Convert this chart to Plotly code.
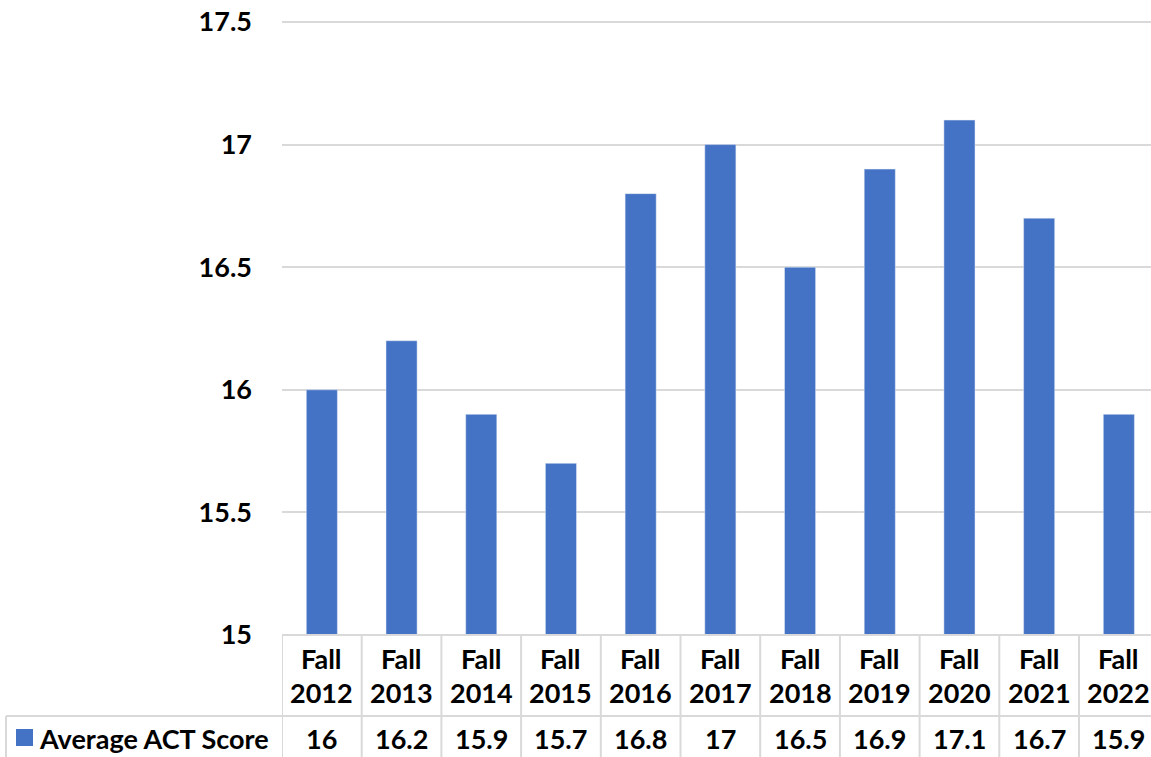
import plotly.graph_objects as go

categories = ["Fall 2012", "Fall 2013", "Fall 2014", "Fall 2015", "Fall 2016", "Fall 2017",
              "Fall 2018", "Fall 2019", "Fall 2020", "Fall 2021", "Fall 2022"]
values = [16, 16.2, 15.9, 15.7, 16.8, 17, 16.5, 16.9, 17.1, 16.7, 15.9]
series_name = "Average ACT Score"
y_ticks = [15, 15.5, 16, 16.5, 17, 17.5]
y_ticktext = ["15", "15.5", "16", "16.5", "17", "17.5"]

W, H = 1151, 757
FONT = "Lato"
FS = 27
BLUE = "#4472C4"
GRID = "#d9d9d9"
TXT = "#000000"

def py(pix):
    return 1 - pix / H

x_idx = list(range(len(categories)))

fig = go.Figure()
fig.add_trace(go.Bar(x=x_idx, y=values, marker_color=BLUE, width=0.39,
                     name=series_name, showlegend=False, hoverinfo="y"))

col_w = 79.7
left_px = 282
n_vis = (W - left_px) / col_w

y_lo, y_hi = 15, 17.5
pad = 0.01
px_per_unit = (635 - 22) / (y_hi - y_lo)

bold = dict(family=FONT, size=FS, color=TXT, weight="bold")

fig.update_layout(
    width=W, height=H,
    margin=dict(l=0, r=0, t=0, b=0),
    paper_bgcolor="white", plot_bgcolor="white",
    font=dict(family=FONT, size=FS, color=TXT),
    xaxis=dict(domain=[left_px / W, 1], range=[-0.5, -0.5 + n_vis],
               showticklabels=False, showgrid=False, zeroline=False,
               showline=False, ticks="", automargin=False),
    yaxis=dict(domain=[py(635), py(22 - pad * px_per_unit)], range=[y_lo, y_hi + pad],
               tickvals=y_ticks, ticktext=y_ticktext,
               tickfont=bold,
               showgrid=True, gridcolor=GRID, gridwidth=2, zeroline=False,
               showline=False, ticks="", ticklabelstandoff=29, automargin=False),
)

shapes = []
shapes.append(dict(type="line", xref="paper", yref="paper",
                   x0=left_px / W, x1=1, y0=py(635), y1=py(635),
                   line=dict(color=GRID, width=2)))
shapes.append(dict(type="line", xref="paper", yref="paper",
                   x0=6 / W, x1=1, y0=py(716), y1=py(716),
                   line=dict(color=GRID, width=2)))
shapes.append(dict(type="line", xref="paper", yref="paper",
                   x0=6 / W, x1=6 / W, y0=py(716), y1=0,
                   line=dict(color=GRID, width=2)))
for i in range(len(categories) + 1):
    shapes.append(dict(type="line", xref="x", yref="paper",
                       x0=i - 0.5, x1=i - 0.5, y0=py(635), y1=0,
                       line=dict(color=GRID, width=2)))
shapes.append(dict(type="rect", xref="paper", yref="paper",
                   x0=16 / W, x1=33 / W, y0=py(746), y1=py(729),
                   fillcolor=BLUE, line=dict(width=0)))
fig.update_layout(shapes=shapes)

annos = []
for i, cat in enumerate(categories):
    word, year = cat.split(" ")
    annos.append(dict(x=i, y=py(658), xref="x", yref="paper", text=word,
                      showarrow=False, font=bold, xanchor="center", yanchor="middle"))
    annos.append(dict(x=i, y=py(692), xref="x", yref="paper", text=year,
                      showarrow=False, font=bold, xanchor="center", yanchor="middle"))
    annos.append(dict(x=i, y=py(738), xref="x", yref="paper", text=f"{values[i]:g}",
                      showarrow=False, font=bold, xanchor="center", yanchor="middle"))
annos.append(dict(x=37 / W, y=py(738), xref="paper", yref="paper", text=series_name,
                  showarrow=False, font=bold, xanchor="left", yanchor="middle"))
fig.update_layout(annotations=annos)

fig.write_html("out.html", config={"displayModeBar": False},
               post_script="document.body.style.margin='0';document.body.style.overflow='hidden';")
